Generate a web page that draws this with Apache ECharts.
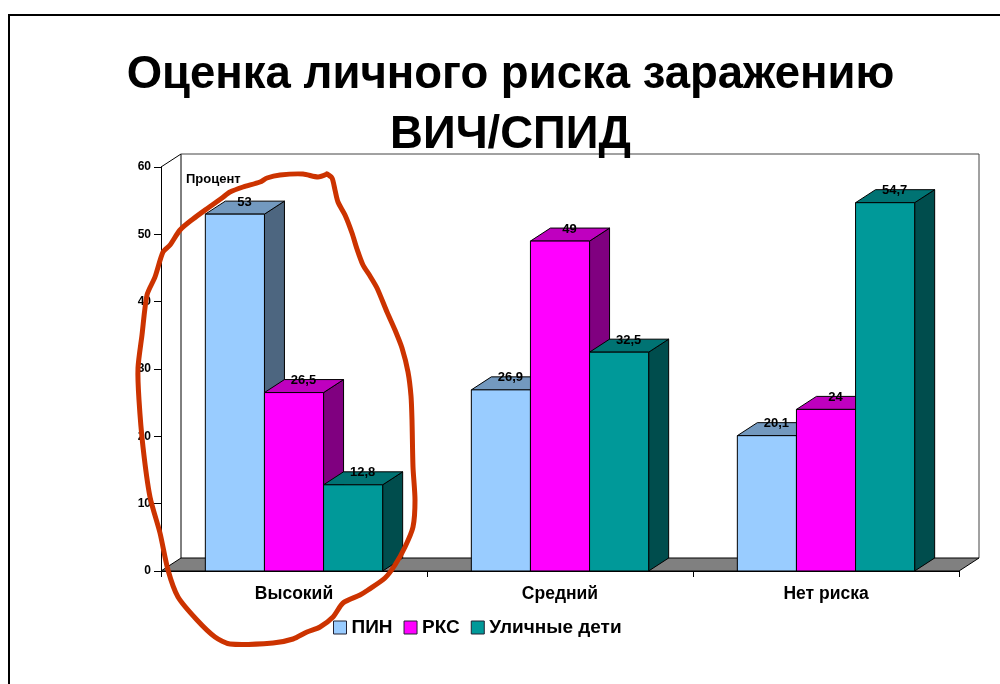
<!DOCTYPE html>
<html>
<head>
<meta charset="utf-8">
<script src="https://cdn.jsdelivr.net/npm/echarts@6/dist/echarts.min.js"></script>
<style>html,body{margin:0;padding:0;background:#fff}#c{width:1000px;height:684px}</style>
</head>
<body>
<div id="c"></div>
<script>
var categories = ['Высокий', 'Средний', 'Нет риска'];
var pin = [53, 26.9, 20.1];
var rks = [26.5, 49, 24];
var street = [12.8, 32.5, 54.7];
var seriesNames = ['ПИН', 'РКС', 'Уличные дети'];
var yTicks = [0, 10, 20, 30, 40, 50, 60];

var FONT = '"Liberation Sans", Arial, sans-serif';
var DX = 20, DY = -13;
var palettes = [
  {front: '#99CCFF', top: '#7399BF', side: '#4D6680'},
  {front: '#FF00FF', top: '#BF00BF', side: '#800080'},
  {front: '#009999', top: '#007373', side: '#004D4D'}
];

function face(points, fill) {
  return {type: 'polygon', shape: {points: points},
    style: {fill: fill, stroke: '#000', lineWidth: 1}};
}

function barRenderer(seriesIdx) {
  return function (params, api) {
    var cat = api.value(0), val = api.value(1);
    var band = api.size([1, 0])[0];
    var w = band / 4.5;
    var c0 = api.coord([cat, 0]), c1 = api.coord([cat, val]);
    var x0 = c0[0] - 1.5 * w + seriesIdx * w, x1 = x0 + w;
    var yB = c0[1], yT = c1[1];
    var p = palettes[seriesIdx];
    return {type: 'group', children: [
      face([[x1, yT], [x1 + DX, yT + DY], [x1 + DX, yB + DY], [x1, yB]], p.side),
      face([[x0, yT], [x0 + DX, yT + DY], [x1 + DX, yT + DY], [x1, yT]], p.top),
      face([[x0, yT], [x1, yT], [x1, yB], [x0, yB]], p.front),
      {type: 'text', z2: 50, style: {
        x: (x0 + x1) / 2 + 9.5, y: yT + DY + 1,
        text: String(val).replace('.', ','),
        fill: '#000', font: 'bold 13px ' + FONT,
        align: 'center', verticalAlign: 'middle'}}
    ]};
  };
}

function wallRenderer(params) {
  var s = params.coordSys;
  var l = s.x, r = s.x + s.width, t = s.y, b = s.y + s.height;
  var wallTop = t - 13;
  var stroke = {stroke: '#000', lineWidth: 1};
  return {type: 'group', children: [
    {type: 'polygon', shape: {points: [[l, t], [l + DX, wallTop], [r + DX, wallTop], [r + DX, b + DY], [l + DX, b + DY], [l, b]]},
      style: {fill: '#fff', stroke: 'none'}},
    {type: 'polyline', shape: {points: [[l, t], [l + DX, wallTop], [l + DX, b + DY]]}, style: Object.assign({fill: 'none'}, stroke)},
    {type: 'polyline', shape: {points: [[l + DX, wallTop], [r + DX, wallTop], [r + DX, b + DY]]},
      style: {fill: 'none', stroke: '#444', lineWidth: 1}},
    {type: 'polygon', shape: {points: [[l, b], [l + DX, b + DY], [r + DX, b + DY], [r, b]]},
      style: {fill: '#808080', stroke: '#000', lineWidth: 1}}
  ]};
}

var chart = echarts.init(document.getElementById('c'));
var values = [pin, rks, street];
var series = [{
  type: 'custom', name: 'wall', renderItem: wallRenderer, z: 1, silent: true,
  data: [[0, 0]], encode: {x: 0, y: 1}
}];
seriesNames.forEach(function (name, i) {
  series.push({
    type: 'custom', name: name, z: 3 + i,
    renderItem: barRenderer(i),
    itemStyle: {color: palettes[i].front},
    encode: {x: 0, y: 1},
    data: values[i].map(function (v, k) { return [k, v]; })
  });
});

var annotation = [
  [327,174],[332,178],[335,190],[338,202],[345,215],[352,233],[357,249],[363,265],[370,276],[377,288],
  [387,312],[395,330],[402,348],[408,372],[411,396],[412,420],[413,467],[415,500],[413,527],[405,547],
  [395,565],[385,578],[368,590],[360,595],[343,603],[333,617],[320,627],[307,632],[293,639],[273,643],
  [230,644],[215,637],[197,620],[178,597],[168,570],[160,533],[150,497],[143,447],[139,400],[138,368],
  [142,335],[147,295],[155,277],[163,252],[170,245],[180,230],[193,219],[208,208],[222,198],[230,192],
  [243,187],[260,182],[267,178],[280,175],[303,174],[318,177],[327,174]
];

chart.setOption({
  animation: false,
  backgroundColor: '#fff',
  title: {
    text: 'Оценка личного риска заражению\nВИЧ/СПИД',
    left: 505.5, top: 40, textAlign: 'center',
    textStyle: {fontFamily: FONT, fontWeight: 'bold', fontSize: 45.5, lineHeight: 60, color: '#000'}
  },
  legend: {
    left: 328, top: 613, itemWidth: 13, itemHeight: 13, itemGap: 11, icon: 'rect',
    data: seriesNames,
    itemStyle: {borderColor: '#223', borderWidth: 1},
    textStyle: {fontFamily: FONT, fontWeight: 'bold', fontSize: 19, color: '#000'}
  },
  grid: {left: 161, top: 167, width: 798, height: 404, containLabel: false},
  xAxis: {
    type: 'category', data: categories, boundaryGap: true, z: 10,
    axisLine: {show: true, lineStyle: {color: '#000', width: 1}},
    axisTick: {show: true, length: 6, alignWithLabel: false, lineStyle: {color: '#000'}},
    axisLabel: {margin: 14, color: '#000', fontFamily: FONT, fontWeight: 'bold', fontSize: 17.5},
    splitLine: {show: false}
  },
  yAxis: {
    type: 'value', min: 0, max: yTicks[yTicks.length - 1], interval: 10, z: 10,
    axisLine: {show: true, lineStyle: {color: '#000', width: 1}},
    axisTick: {show: true, length: 7, lineStyle: {color: '#000'}},
    axisLabel: {margin: 10, color: '#000', fontFamily: FONT, fontWeight: 'bold', fontSize: 12},
    splitLine: {show: false}
  },
  series: series,
  graphic: [
    {type: 'rect', silent: true, z: 0, shape: {x: 9, y: 15, width: 1200, height: 900},
      style: {fill: 'none', stroke: '#000', lineWidth: 2}},
    {type: 'text', silent: true, z: 20, left: 186, top: 173,
      style: {text: 'Процент', fill: '#000', font: 'bold 13px ' + FONT}},
    {type: 'polyline', silent: true, z: 30, shape: {points: annotation, smooth: 0.25},
      style: {fill: 'none', stroke: '#CC3300', lineWidth: 5, lineJoin: 'round', lineCap: 'round'}}
  ]
});
</script>
</body>
</html>
